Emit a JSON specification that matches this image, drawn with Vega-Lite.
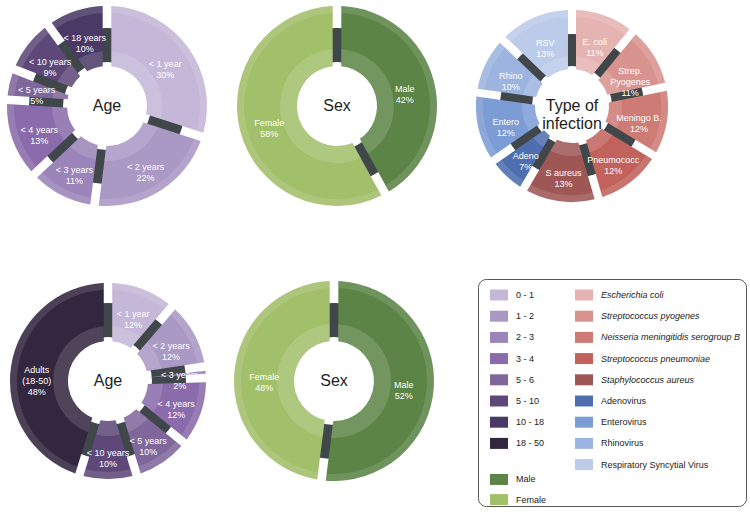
{
  "$schema": "https://vega.github.io/schema/vega-lite/v6.json",
  "padding": 0,
  "background": "white",
  "spacing": 66,
  "config": {"view": {"stroke": null}, "font": "Liberation Sans"},
  "datasets": {
    "age1": [
      {"i": 1, "key": "0 - 1", "lab": "< 1 year\n30%", "v": 30},
      {"i": 2, "key": "1 - 2", "lab": "< 2 years\n22%", "v": 22},
      {"i": 3, "key": "2 - 3", "lab": "< 3 years\n11%", "v": 11},
      {"i": 4, "key": "3 - 4", "lab": "< 4 years\n13%", "v": 13},
      {"i": 5, "key": "5 - 6", "lab": "< 5 years\n5%", "v": 5},
      {"i": 6, "key": "5 - 10", "lab": "< 10 years\n9%", "v": 9},
      {"i": 7, "key": "10 - 18", "lab": "< 18 years\n10%", "v": 10}
    ],
    "sex1": [
      {"i": 1, "key": "Male", "lab": "Male\n42%", "v": 42},
      {"i": 2, "key": "Female", "lab": "Female\n58%", "v": 58}
    ],
    "inf": [
      {"i": 1, "key": "Escherichia coli", "lab": "E. coli\n11%", "v": 11},
      {"i": 2, "key": "Streptococcus pyogenes", "lab": "Strep.\nPyogenes\n11%", "v": 11},
      {"i": 3, "key": "Neisseria meningitidis serogroup B", "lab": "Meningo B.\n12%", "v": 12},
      {"i": 4, "key": "Streptococcus pneumoniae", "lab": "Pneumococc\n12%", "v": 12},
      {"i": 5, "key": "Staphylococcus aureus", "lab": "S aureus\n13%", "v": 13},
      {"i": 6, "key": "Adenovirus", "lab": "Adeno\n7%", "v": 7},
      {"i": 7, "key": "Enterovirus", "lab": "Entero\n12%", "v": 12},
      {"i": 8, "key": "Rhinovirus", "lab": "Rhino\n10%", "v": 10},
      {"i": 9, "key": "Respiratory Syncytial Virus", "lab": "RSV\n13%", "v": 13}
    ],
    "age2": [
      {"i": 1, "key": "0 - 1", "lab": "< 1 year\n12%", "v": 12},
      {"i": 2, "key": "1 - 2", "lab": "< 2 years\n12%", "v": 12},
      {"i": 3, "key": "2 - 3", "lab": "< 3 years\n2%", "v": 2},
      {"i": 4, "key": "3 - 4", "lab": "< 4 years\n12%", "v": 12},
      {"i": 5, "key": "5 - 6", "lab": "< 5 years\n10%", "v": 10},
      {"i": 6, "key": "5 - 10", "lab": "< 10 years\n10%", "v": 10},
      {"i": 7, "key": "18 - 50", "lab": "Adults\n(18-50)\n48%", "v": 48}
    ],
    "sex2": [
      {"i": 1, "key": "Male", "lab": "Male\n52%", "v": 52},
      {"i": 2, "key": "Female", "lab": "Female\n48%", "v": 48}
    ],
    "legend": [
      {"col": 0, "row": 0, "key": "0 - 1", "it": false},
      {"col": 0, "row": 1, "key": "1 - 2", "it": false},
      {"col": 0, "row": 2, "key": "2 - 3", "it": false},
      {"col": 0, "row": 3, "key": "3 - 4", "it": false},
      {"col": 0, "row": 4, "key": "5 - 6", "it": false},
      {"col": 0, "row": 5, "key": "5 - 10", "it": false},
      {"col": 0, "row": 6, "key": "10 - 18", "it": false},
      {"col": 0, "row": 7, "key": "18 - 50", "it": false},
      {"col": 0, "row": 8.7, "key": "Male", "it": false},
      {"col": 0, "row": 9.65, "key": "Female", "it": false},
      {"col": 1, "row": 0, "key": "Escherichia coli", "it": true},
      {"col": 1, "row": 1, "key": "Streptococcus pyogenes", "it": true},
      {"col": 1, "row": 2, "key": "Neisseria meningitidis serogroup B", "it": true},
      {"col": 1, "row": 3, "key": "Streptococcus pneumoniae", "it": true},
      {"col": 1, "row": 4, "key": "Staphylococcus aureus", "it": true},
      {"col": 1, "row": 5, "key": "Adenovirus", "it": false},
      {"col": 1, "row": 6, "key": "Enterovirus", "it": false},
      {"col": 1, "row": 7, "key": "Rhinovirus", "it": false},
      {"col": 1, "row": 8, "key": "Respiratory Syncytial Virus", "it": false}
    ]
  },
  "vconcat": [
    {
      "spacing": 0,
      "hconcat": [
        {
          "width": 214, "height": 212,
          "data": {"name": "age1"},
          "layer": [
            {"data": {"values": [{"ring": 1}]}, "mark": {"type": "arc", "theta": 0, "theta2": 6.2832, "radius": 78, "radius2": 44, "color": "#40474a"}, "encoding": {}},
            {"mark": {"type": "arc", "radius": 100, "radius2": 40, "padAngle": 0.08}, "encoding": {"theta": {"field": "v", "type": "quantitative", "stack": true}, "order": {"field": "i", "type": "quantitative"}, "color": {"field": "key", "type": "nominal", "legend": null, "scale": {"domain": ["0 - 1","1 - 2","2 - 3","3 - 4","5 - 6","5 - 10","10 - 18","18 - 50","Male","Female","Escherichia coli","Streptococcus pyogenes","Neisseria meningitidis serogroup B","Streptococcus pneumoniae","Staphylococcus aureus","Adenovirus","Enterovirus","Rhinovirus","Respiratory Syncytial Virus"], "range": ["#c4b7d7","#aa98c5","#9a84b9","#8a6bab","#7f679b","#5e4879","#4a3966","#33263f","#5c8446","#a2bf6a","#e5b3b2","#d9938f","#ce7a75","#c1625c","#9f5756","#4e6eb0","#7b9cd4","#9cb4df","#bccbea"]}}}},
            {"mark": {"type": "arc", "radius": 55, "radius2": 40, "padAngle": 0.127, "color": "#ffffff", "opacity": 0.14}, "encoding": {"theta": {"field": "v", "type": "quantitative", "stack": true}, "order": {"field": "i", "type": "quantitative"}}},
            {"mark": {"type": "arc", "radius": 100, "radius2": 93, "padAngle": 0.063, "color": "#ffffff", "opacity": 0.12}, "encoding": {"theta": {"field": "v", "type": "quantitative", "stack": true}, "order": {"field": "i", "type": "quantitative"}}},
            {"mark": {"type": "text", "radius": 72, "lineBreak": "\n", "fontSize": 9, "lineHeight": 11, "color": "#ffffff"}, "encoding": {"theta": {"field": "v", "type": "quantitative", "stack": true}, "order": {"field": "i", "type": "quantitative"}, "text": {"field": "lab"}}},
            {"data": {"values": [{"t": "Age"}]}, "mark": {"type": "text", "fontSize": 16, "color": "#222222"}, "encoding": {"text": {"field": "t"}}}
          ]
        },
        {
          "width": 246, "height": 212,
          "data": {"name": "sex1"},
          "layer": [
            {"data": {"values": [{"ring": 1}]}, "mark": {"type": "arc", "theta": 0, "theta2": 6.2832, "radius": 78, "radius2": 44, "color": "#40474a"}, "encoding": {}},
            {"mark": {"type": "arc", "radius": 100, "radius2": 40, "padAngle": 0.08}, "encoding": {"theta": {"field": "v", "type": "quantitative", "stack": true}, "order": {"field": "i", "type": "quantitative"}, "color": {"field": "key", "type": "nominal", "legend": null, "scale": {"domain": ["0 - 1","1 - 2","2 - 3","3 - 4","5 - 6","5 - 10","10 - 18","18 - 50","Male","Female","Escherichia coli","Streptococcus pyogenes","Neisseria meningitidis serogroup B","Streptococcus pneumoniae","Staphylococcus aureus","Adenovirus","Enterovirus","Rhinovirus","Respiratory Syncytial Virus"], "range": ["#c4b7d7","#aa98c5","#9a84b9","#8a6bab","#7f679b","#5e4879","#4a3966","#33263f","#5c8446","#a2bf6a","#e5b3b2","#d9938f","#ce7a75","#c1625c","#9f5756","#4e6eb0","#7b9cd4","#9cb4df","#bccbea"]}}}},
            {"mark": {"type": "arc", "radius": 57, "radius2": 40, "padAngle": 0.12, "color": "#ffffff", "opacity": 0.14}, "encoding": {"theta": {"field": "v", "type": "quantitative", "stack": true}, "order": {"field": "i", "type": "quantitative"}}},
            {"mark": {"type": "arc", "radius": 100, "radius2": 93, "padAngle": 0.063, "color": "#ffffff", "opacity": 0.12}, "encoding": {"theta": {"field": "v", "type": "quantitative", "stack": true}, "order": {"field": "i", "type": "quantitative"}}},
            {"mark": {"type": "text", "radius": 70, "lineBreak": "\n", "fontSize": 9, "lineHeight": 11, "color": "#ffffff"}, "encoding": {"theta": {"field": "v", "type": "quantitative", "stack": true}, "order": {"field": "i", "type": "quantitative"}, "text": {"field": "lab"}}},
            {"data": {"values": [{"t": "Sex"}]}, "mark": {"type": "text", "fontSize": 16, "color": "#222222"}, "encoding": {"text": {"field": "t"}}}
          ]
        },
        {
          "width": 224, "height": 212,
          "data": {"name": "inf"},
          "layer": [
            {"data": {"values": [{"ring": 1}]}, "mark": {"type": "arc", "theta": 0, "theta2": 6.2832, "radius": 72, "radius2": 40, "color": "#40474a"}, "encoding": {}},
            {"mark": {"type": "arc", "radius": 96, "radius2": 37, "padAngle": 0.078}, "encoding": {"theta": {"field": "v", "type": "quantitative", "stack": true}, "order": {"field": "i", "type": "quantitative"}, "color": {"field": "key", "type": "nominal", "legend": null, "scale": {"domain": ["0 - 1","1 - 2","2 - 3","3 - 4","5 - 6","5 - 10","10 - 18","18 - 50","Male","Female","Escherichia coli","Streptococcus pyogenes","Neisseria meningitidis serogroup B","Streptococcus pneumoniae","Staphylococcus aureus","Adenovirus","Enterovirus","Rhinovirus","Respiratory Syncytial Virus"], "range": ["#c4b7d7","#aa98c5","#9a84b9","#8a6bab","#7f679b","#5e4879","#4a3966","#33263f","#5c8446","#a2bf6a","#e5b3b2","#d9938f","#ce7a75","#c1625c","#9f5756","#4e6eb0","#7b9cd4","#9cb4df","#bccbea"]}}}},
            {"mark": {"type": "arc", "radius": 50, "radius2": 37, "padAngle": 0.129, "color": "#ffffff", "opacity": 0.14}, "encoding": {"theta": {"field": "v", "type": "quantitative", "stack": true}, "order": {"field": "i", "type": "quantitative"}}},
            {"mark": {"type": "arc", "radius": 96, "radius2": 89, "padAngle": 0.061, "color": "#ffffff", "opacity": 0.12}, "encoding": {"theta": {"field": "v", "type": "quantitative", "stack": true}, "order": {"field": "i", "type": "quantitative"}}},
            {"mark": {"type": "text", "radius": 68, "lineBreak": "\n", "fontSize": 9, "lineHeight": 11, "color": "#ffffff"}, "encoding": {"theta": {"field": "v", "type": "quantitative", "stack": true}, "order": {"field": "i", "type": "quantitative"}, "text": {"field": "lab"}}},
            {"data": {"values": [{"t": "Type of\ninfection"}]}, "mark": {"type": "text", "fontSize": 16, "lineHeight": 18, "lineBreak": "\n", "color": "#222222"}, "encoding": {"text": {"field": "t"}}}
          ]
        }
      ]
    },
    {
      "spacing": 25,
      "hconcat": [
        {
          "spacing": 0,
          "hconcat": [
            {
              "width": 216, "height": 204,
              "data": {"name": "age2"},
              "layer": [
                {"data": {"values": [{"ring": 1}]}, "mark": {"type": "arc", "theta": 0, "theta2": 6.2832, "radius": 78, "radius2": 44, "color": "#40474a"}, "encoding": {}},
                {"mark": {"type": "arc", "radius": 98, "radius2": 40, "padAngle": 0.08}, "encoding": {"theta": {"field": "v", "type": "quantitative", "stack": true}, "order": {"field": "i", "type": "quantitative"}, "color": {"field": "key", "type": "nominal", "legend": null, "scale": {"domain": ["0 - 1","1 - 2","2 - 3","3 - 4","5 - 6","5 - 10","10 - 18","18 - 50","Male","Female","Escherichia coli","Streptococcus pyogenes","Neisseria meningitidis serogroup B","Streptococcus pneumoniae","Staphylococcus aureus","Adenovirus","Enterovirus","Rhinovirus","Respiratory Syncytial Virus"], "range": ["#c4b7d7","#aa98c5","#9a84b9","#8a6bab","#7f679b","#5e4879","#4a3966","#3a2b4c","#5c8446","#a2bf6a","#e5b3b2","#d9938f","#ce7a75","#c1625c","#9f5756","#4e6eb0","#7b9cd4","#9cb4df","#bccbea"]}}}},
                {"mark": {"type": "arc", "radius": 55, "radius2": 40, "padAngle": 0.127, "color": "#ffffff", "opacity": 0.14}, "encoding": {"theta": {"field": "v", "type": "quantitative", "stack": true}, "order": {"field": "i", "type": "quantitative"}}},
                {"mark": {"type": "arc", "radius": 98, "radius2": 91, "padAngle": 0.064, "color": "#ffffff", "opacity": 0.12}, "encoding": {"theta": {"field": "v", "type": "quantitative", "stack": true}, "order": {"field": "i", "type": "quantitative"}}},
                {"mark": {"type": "text", "radius": 72, "lineBreak": "\n", "fontSize": 9, "lineHeight": 11, "color": "#ffffff"}, "encoding": {"theta": {"field": "v", "type": "quantitative", "stack": true}, "order": {"field": "i", "type": "quantitative"}, "text": {"field": "lab"}}},
                {"data": {"values": [{"t": "Age"}]}, "mark": {"type": "text", "fontSize": 16, "color": "#222222"}, "encoding": {"text": {"field": "t"}}}
              ]
            },
            {
              "width": 236, "height": 204,
              "data": {"name": "sex2"},
              "layer": [
                {"data": {"values": [{"ring": 1}]}, "mark": {"type": "arc", "theta": 0, "theta2": 6.2832, "radius": 78, "radius2": 44, "color": "#40474a"}, "encoding": {}},
                {"mark": {"type": "arc", "radius": 100, "radius2": 40, "padAngle": 0.08}, "encoding": {"theta": {"field": "v", "type": "quantitative", "stack": true}, "order": {"field": "i", "type": "quantitative"}, "color": {"field": "key", "type": "nominal", "legend": null, "scale": {"domain": ["0 - 1","1 - 2","2 - 3","3 - 4","5 - 6","5 - 10","10 - 18","18 - 50","Male","Female","Escherichia coli","Streptococcus pyogenes","Neisseria meningitidis serogroup B","Streptococcus pneumoniae","Staphylococcus aureus","Adenovirus","Enterovirus","Rhinovirus","Respiratory Syncytial Virus"], "range": ["#c4b7d7","#aa98c5","#9a84b9","#8a6bab","#7f679b","#5e4879","#4a3966","#33263f","#5c8446","#a2bf6a","#e5b3b2","#d9938f","#ce7a75","#c1625c","#9f5756","#4e6eb0","#7b9cd4","#9cb4df","#bccbea"]}}}},
                {"mark": {"type": "arc", "radius": 57, "radius2": 40, "padAngle": 0.12, "color": "#ffffff", "opacity": 0.14}, "encoding": {"theta": {"field": "v", "type": "quantitative", "stack": true}, "order": {"field": "i", "type": "quantitative"}}},
                {"mark": {"type": "arc", "radius": 100, "radius2": 93, "padAngle": 0.063, "color": "#ffffff", "opacity": 0.12}, "encoding": {"theta": {"field": "v", "type": "quantitative", "stack": true}, "order": {"field": "i", "type": "quantitative"}}},
                {"mark": {"type": "text", "radius": 70, "lineBreak": "\n", "fontSize": 9, "lineHeight": 11, "color": "#ffffff"}, "encoding": {"theta": {"field": "v", "type": "quantitative", "stack": true}, "order": {"field": "i", "type": "quantitative"}, "text": {"field": "lab"}}},
                {"data": {"values": [{"t": "Sex"}]}, "mark": {"type": "text", "fontSize": 16, "color": "#222222"}, "encoding": {"text": {"field": "t"}}}
              ]
            }
          ]
        },
        {
          "width": 268, "height": 227,
          "view": {"stroke": "#555555", "strokeWidth": 1, "cornerRadius": 8},
          "data": {"name": "legend"},
          "encoding": {
            "x": {"field": "col", "type": "quantitative", "axis": null, "scale": {"domain": [0, 1], "range": [21, 106]}},
            "y": {"field": "row", "type": "quantitative", "axis": null, "scale": {"domain": [0, 10], "range": [16, 228]}}
          },
          "layer": [
            {"mark": {"type": "rect", "width": 18, "height": 11}, "encoding": {"color": {"field": "key", "type": "nominal", "legend": null, "scale": {"domain": ["0 - 1","1 - 2","2 - 3","3 - 4","5 - 6","5 - 10","10 - 18","18 - 50","Male","Female","Escherichia coli","Streptococcus pyogenes","Neisseria meningitidis serogroup B","Streptococcus pneumoniae","Staphylococcus aureus","Adenovirus","Enterovirus","Rhinovirus","Respiratory Syncytial Virus"], "range": ["#c4b7d7","#aa98c5","#9a84b9","#8a6bab","#7f679b","#5e4879","#4a3966","#33263f","#5c8446","#a2bf6a","#e5b3b2","#d9938f","#ce7a75","#c1625c","#9f5756","#4e6eb0","#7b9cd4","#9cb4df","#bccbea"]}}}},
            {"transform": [{"filter": "datum.it"}], "mark": {"type": "text", "align": "left", "baseline": "middle", "dx": 17, "fontSize": 9, "fontStyle": "italic", "color": "#222222"}, "encoding": {"text": {"field": "key"}}},
            {"transform": [{"filter": "!datum.it"}], "mark": {"type": "text", "align": "left", "baseline": "middle", "dx": 17, "fontSize": 9, "color": "#222222"}, "encoding": {"text": {"field": "key"}}}
          ]
        }
      ]
    }
  ]
}
